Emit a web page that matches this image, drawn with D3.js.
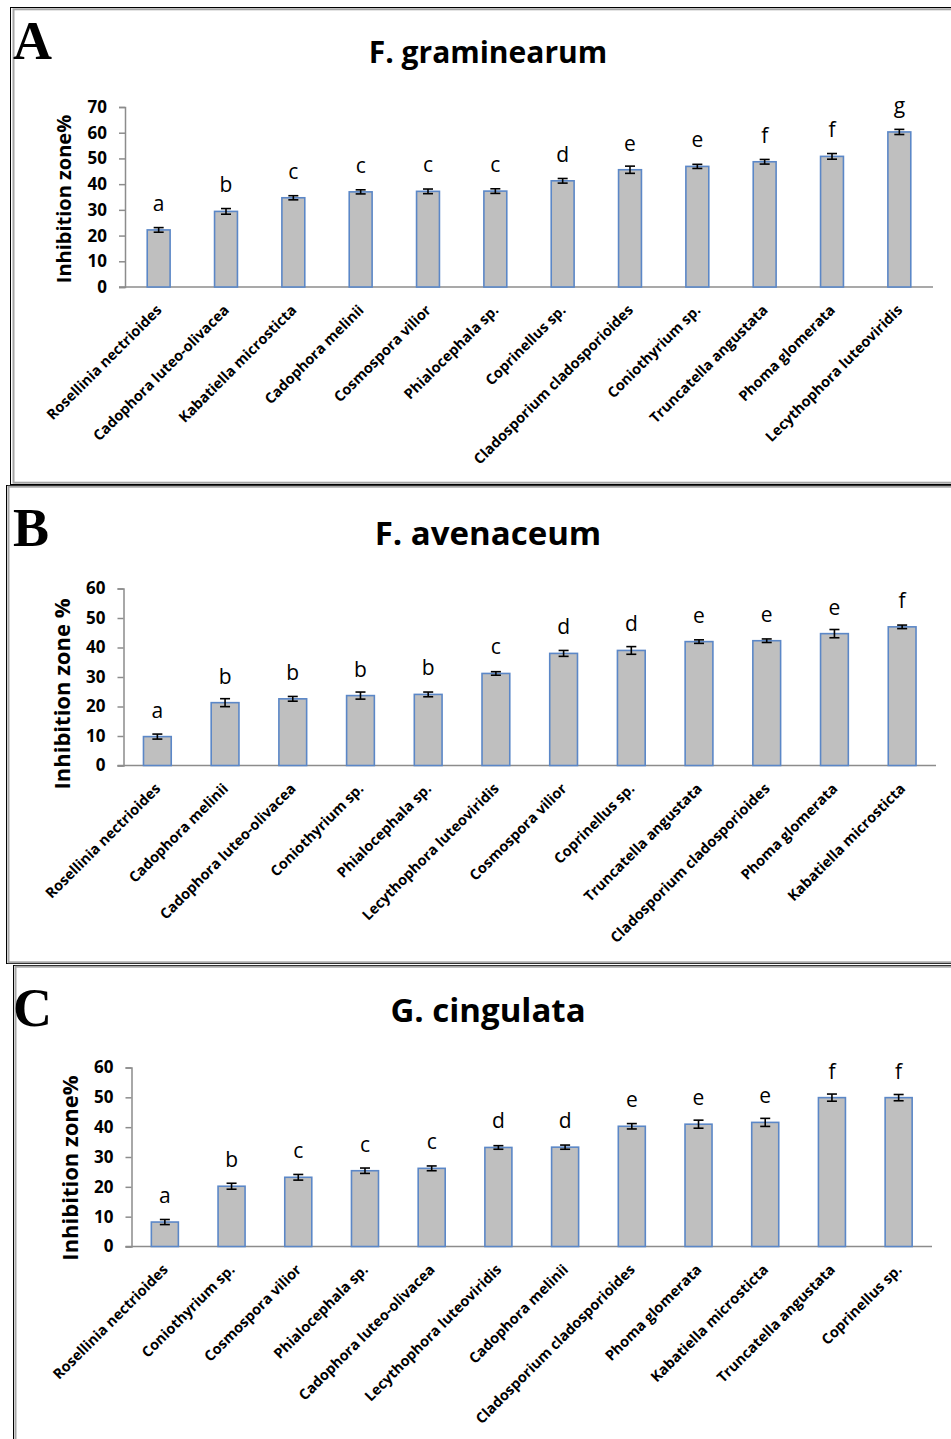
<!DOCTYPE html>
<html>
<head>
<meta charset="utf-8">
<script src="https://cdn.jsdelivr.net/npm/d3@7"></script>
<style>
  body { margin: 0; background: #fff; }
  svg { display: block; }
</style>
</head>
<body>
<script>
"use strict";

// ---- data ----
const namesA = ["Rosellinia nectrioides", "Cadophora luteo-olivacea", "Kabatiella microsticta", "Cadophora melinii",
  "Cosmospora vilior", "Phialocephala sp.", "Coprinellus sp.", "Cladosporium cladosporioides",
  "Coniothyrium sp.", "Truncatella angustata", "Phoma glomerata", "Lecythophora luteoviridis"];
const valuesA = [22.2, 29.4, 34.7, 37.0, 37.2, 37.3, 41.3, 45.6, 46.9, 48.7, 50.8, 60.3];
const errorsA = [0.9, 1.1, 0.8, 0.8, 0.9, 0.9, 0.9, 1.4, 0.8, 0.9, 1.1, 1.0];
const lettersA = ["a", "b", "c", "c", "c", "c", "d", "e", "e", "f", "f", "g"];
const ticksA = [0, 10, 20, 30, 40, 50, 60, 70];

const namesB = ["Rosellinia nectrioides", "Cadophora melinii", "Cadophora luteo-olivacea", "Coniothyrium sp.",
  "Phialocephala sp.", "Lecythophora luteoviridis", "Cosmospora vilior", "Coprinellus sp.",
  "Truncatella angustata", "Cladosporium cladosporioides", "Phoma glomerata", "Kabatiella microsticta"];
const valuesB = [9.8, 21.3, 22.6, 23.7, 24.1, 31.2, 38.0, 39.0, 42.0, 42.3, 44.7, 47.0];
const errorsB = [0.85, 1.35, 0.8, 1.2, 0.8, 0.6, 1.0, 1.3, 0.6, 0.6, 1.4, 0.6];
const lettersB = ["a", "b", "b", "b", "b", "c", "d", "d", "e", "e", "e", "f"];
const ticksB = [0, 10, 20, 30, 40, 50, 60];

const namesC = ["Rosellinia nectrioides", "Coniothyrium sp.", "Cosmospora vilior", "Phialocephala sp.",
  "Cadophora luteo-olivacea", "Lecythophora luteoviridis", "Cadophora melinii", "Cladosporium cladosporioides",
  "Phoma glomerata", "Kabatiella microsticta", "Truncatella angustata", "Coprinellus sp."];
const valuesC = [8.2, 20.2, 23.2, 25.4, 26.2, 33.2, 33.3, 40.3, 41.0, 41.6, 49.9, 49.9];
const errorsC = [0.85, 1.0, 0.95, 0.9, 0.8, 0.6, 0.7, 0.9, 1.35, 1.35, 1.2, 1.05];
const lettersC = ["a", "b", "c", "c", "c", "d", "d", "e", "e", "e", "f", "f"];
const ticksC = [0, 10, 20, 30, 40, 50, 60];

// ---- layout ----
const W = 951, H = 1439;
const SANS = "'Open Sans', 'Liberation Sans', sans-serif";
const SERIF = "'Liberation Serif', 'DejaVu Serif', serif";

const panels = [
  { tag: "A", title: "F. graminearum", names: namesA, values: valuesA, errors: errorsA, letters: lettersA,
    ticks: ticksA, ylabel: "Inhibition zone%",
    box: { x: 10.5, y: 7.5, bottom: 484.5, inset: 3 },
    left: 125, right: 933, top: 107, bottom: 287, pad: 0.66,
    tagY: 59, titleY: 63, titleSize: 30, ylabelX: 71, ylabelY: 199, ylabelSize: 20 },
  { tag: "B", title: "F. avenaceum", names: namesB, values: valuesB, errors: errorsB, letters: lettersB,
    ticks: ticksB, ylabel: "Inhibition zone %",
    box: { x: 6.5, y: 485.5, bottom: 963.5, inset: 2 },
    left: 123.5, right: 936, top: 588.5, bottom: 765.5, pad: 0.59,
    tagY: 546, titleY: 545, titleSize: 33, ylabelX: 70, ylabelY: 694, ylabelSize: 22 },
  { tag: "C", title: "G. cingulata", names: namesC, values: valuesC, errors: errorsC, letters: lettersC,
    ticks: ticksC, ylabel: "Inhibition zone%",
    box: { x: 13.5, y: 965.5, bottom: 1460, inset: 2 },
    left: 131.5, right: 932, top: 1067.5, bottom: 1246.5, pad: 0.595,
    tagY: 1026, titleY: 1022, titleSize: 33, ylabelX: 78, ylabelY: 1168, ylabelSize: 22 }
];

const svg = d3.select("body").append("svg")
  .attr("width", W).attr("height", H)
  .attr("viewBox", `0 0 ${W} ${H}`);

svg.append("rect").attr("width", W).attr("height", H).attr("fill", "#fff");

const drawPanel = (p) => {
  const g = svg.append("g").attr("class", "panel-" + p.tag);

  // frame: thin black line outside, grey line inside
  g.append("rect")
    .attr("x", p.box.x).attr("y", p.box.y)
    .attr("width", W + 20).attr("height", p.box.bottom - p.box.y)
    .attr("fill", "none").attr("stroke", "#000").attr("stroke-width", 1);
  g.append("rect")
    .attr("x", p.box.x + p.box.inset).attr("y", p.box.y + p.box.inset * 0.6)
    .attr("width", W + 20).attr("height", p.box.bottom - p.box.y - p.box.inset * 1.2)
    .attr("fill", "none").attr("stroke", "#a6a6a6").attr("stroke-width", 2);

  g.append("text")
    .attr("x", 13).attr("y", p.tagY)
    .attr("font-family", SERIF).attr("font-weight", 700).attr("font-size", 54)
    .text(p.tag);

  g.append("text")
    .attr("x", 488).attr("y", p.titleY)
    .attr("text-anchor", "middle")
    .attr("font-family", SANS).attr("font-weight", 700).attr("font-size", p.titleSize)
    .text(p.title);

  const x = d3.scaleBand()
    .domain(p.names)
    .range([p.left, p.right])
    .paddingInner(p.pad)
    .paddingOuter(p.pad / 2);
  const yMax = d3.max(p.ticks);
  const y = d3.scaleLinear().domain([0, yMax]).range([p.bottom, p.top]);

  // y axis
  const yAxis = g.append("g")
    .attr("transform", `translate(${p.left},0)`)
    .call(d3.axisLeft(y).tickValues(p.ticks).tickSize(6).tickPadding(12).tickFormat(d3.format("d")));
  yAxis.select(".domain").attr("stroke", "#8c8c8c").attr("stroke-width", 1.5);
  yAxis.selectAll(".tick line").attr("stroke", "#8c8c8c").attr("stroke-width", 1.5);
  yAxis.selectAll(".tick text")
    .attr("font-family", SANS).attr("font-weight", 700).attr("font-size", 17).attr("fill", "#000");

  // x axis line (runs out to the left tick length)
  g.append("line")
    .attr("x1", p.left - 6).attr("x2", p.right)
    .attr("y1", y(0)).attr("y2", y(0))
    .attr("stroke", "#8c8c8c").attr("stroke-width", 1.5);

  g.append("text")
    .attr("transform", `translate(${p.ylabelX},${p.ylabelY}) rotate(-90)`)
    .attr("text-anchor", "middle")
    .attr("font-family", SANS).attr("font-weight", 700).attr("font-size", p.ylabelSize)
    .text(p.ylabel);

  const rows = p.names.map((n, i) => ({ name: n, v: p.values[i], e: p.errors[i], l: p.letters[i] }));

  g.append("g").selectAll("rect").data(rows).enter().append("rect")
    .attr("x", d => x(d.name))
    .attr("y", d => y(d.v))
    .attr("width", x.bandwidth())
    .attr("height", d => y(0) - y(d.v))
    .attr("fill", "#bfbfbf")
    .attr("stroke", "#5b87c7")
    .attr("stroke-width", 1.6);

  const cx = d => x(d.name) + x.bandwidth() / 2;
  const err = g.append("g").attr("stroke", "#000").attr("stroke-width", 1.6);
  err.selectAll(".stem").data(rows).enter().append("line")
    .attr("x1", cx).attr("x2", cx)
    .attr("y1", d => y(d.v + d.e)).attr("y2", d => y(d.v - d.e));
  err.selectAll(".capT").data(rows).enter().append("line")
    .attr("x1", d => cx(d) - 5).attr("x2", d => cx(d) + 5)
    .attr("y1", d => y(d.v + d.e)).attr("y2", d => y(d.v + d.e));
  err.selectAll(".capB").data(rows).enter().append("line")
    .attr("x1", d => cx(d) - 5).attr("x2", d => cx(d) + 5)
    .attr("y1", d => y(d.v - d.e)).attr("y2", d => y(d.v - d.e));

  g.append("g").selectAll("text").data(rows).enter().append("text")
    .attr("x", cx)
    .attr("y", d => y(d.v) - 19)
    .attr("text-anchor", "middle")
    .attr("font-family", SANS).attr("font-size", 21)
    .text(d => d.l);

  g.append("g").selectAll("text").data(rows).enter().append("text")
    .attr("transform", d => `translate(${cx(d) + 4},${y(0) + 24}) rotate(-45)`)
    .attr("text-anchor", "end")
    .attr("font-family", SANS).attr("font-weight", 700).attr("font-size", 14.5)
    .text(d => d.name);
};

panels.forEach(drawPanel);
</script>
</body>
</html>
